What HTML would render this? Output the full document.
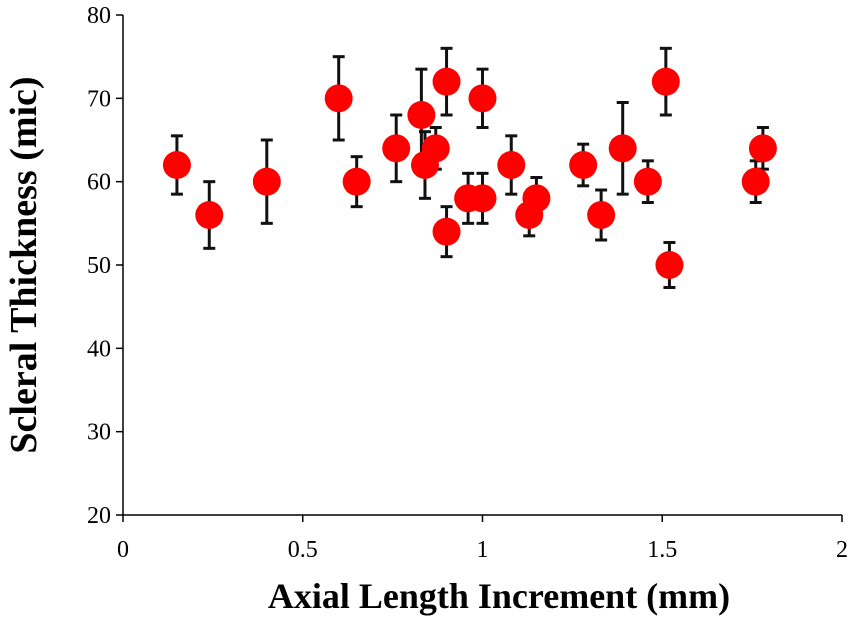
<!DOCTYPE html>
<html><head><meta charset="utf-8"><style>
html,body{margin:0;padding:0;background:#fff;width:851px;height:619px;overflow:hidden}
text{font-family:"Liberation Serif",serif}
</style></head><body>
<svg id="chart" width="851" height="619" viewBox="0 0 851 619" xmlns="http://www.w3.org/2000/svg">
<g id="axes"></g>
<g id="marks"></g>
<text x="499" y="608" font-size="36" font-weight="bold" text-anchor="middle">Axial Length Increment (mm)</text>
<text transform="translate(36,265) rotate(-90)" font-size="38" font-weight="bold" text-anchor="middle">Scleral Thickness (mic)</text>
</svg>
<script>
const xVals=[0.15,0.24,0.40,0.60,0.65,0.76,0.83,0.84,0.87,0.90,0.90,0.96,1.00,1.00,1.08,1.13,1.15,1.28,1.33,1.39,1.46,1.51,1.52,1.76,1.78];
const yVals=[62,56,60,70,60,64,68,62,64,72,54,58,70,58,62,56,58,62,56,64,60,72,50,60,64];
const errVals=[3.5,4,5,5,3,4,5.5,4,2.5,4,3,3,3.5,3,3.5,2.5,2.5,2.5,3,5.5,2.5,4,2.7,2.5,2.5];
const xTicks=[0,0.5,1,1.5,2];
const xTickLabels=["0","0.5","1","1.5","2"];
const yTicks=[20,30,40,50,60,70,80];
const yTickLabels=["20","30","40","50","60","70","80"];
const X0=123,X1=842,Y0=515,Y1=15;
const sx=v=>X0+(v-0)/(2-0)*(X1-X0);
const sy=v=>Y0-(v-20)/(80-20)*(Y0-Y1);
const NS="http://www.w3.org/2000/svg";
function mk(tag,attrs,parent){const e=document.createElementNS(NS,tag);for(const k in attrs)e.setAttribute(k,attrs[k]);parent.appendChild(e);return e;}
const axes=document.getElementById('axes'),marks=document.getElementById('marks');
let l=mk('line',{x1:X0,y1:Y1,x2:X0,y2:Y0,stroke:'#000','stroke-width':1.5},axes);


l=mk('line',{x1:X0,y1:Y0,x2:X1,y2:Y0,stroke:'#000','stroke-width':1.5},axes);


yTicks.forEach((t,i)=>{
 const y=sy(t);
 const tk=mk('line',{x1:X0-7,y1:y,x2:X0,y2:y,stroke:'#000','stroke-width':1.5},axes);
 
 
 const tx=mk('text',{x:X0-12,y:y+8,'font-size':24,'text-anchor':'end'},axes);
 tx.textContent=yTickLabels[i];
 
 
});
xTicks.forEach((t,i)=>{
 const x=sx(t);
 const tk=mk('line',{x1:x,y1:Y0,x2:x,y2:Y0+7,stroke:'#000','stroke-width':1.5},axes);
 
 
 const tx=mk('text',{x:x,y:Y0+42,'font-size':24,'text-anchor':'middle'},axes);
 tx.textContent=xTickLabels[i];
 
 
});
xVals.forEach((xv,i)=>{
 const x=sx(xv),y=sy(yVals[i]),yt=sy(yVals[i]+errVals[i]),yb=sy(yVals[i]-errVals[i]);
 const g=mk('g',{},marks);
 
 
 mk('line',{x1:x,y1:yt,x2:x,y2:yb,stroke:'#111','stroke-width':3},g);
 mk('line',{x1:x-6,y1:yt,x2:x+6,y2:yt,stroke:'#111','stroke-width':3},g);
 mk('line',{x1:x-6,y1:yb,x2:x+6,y2:yb,stroke:'#111','stroke-width':3},g);
});
xVals.forEach((xv,i)=>{
 const c=mk('circle',{cx:sx(xv),cy:sy(yVals[i]),r:14,fill:'#f00'},marks);
 
 
});
</script>
</body></html>
